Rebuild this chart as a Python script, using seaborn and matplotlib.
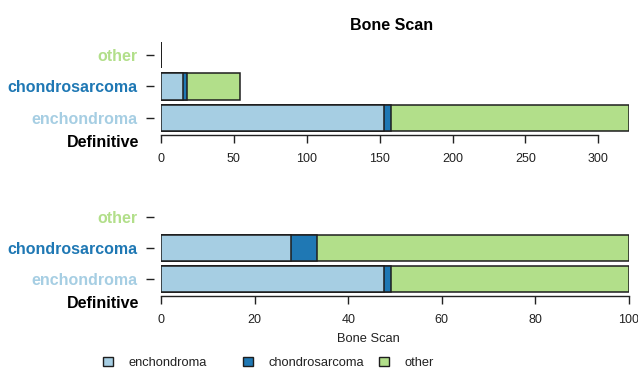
import numpy as np
import pandas as pd
import matplotlib
matplotlib.use("Agg")
import matplotlib.pyplot as plt
from matplotlib.patches import Patch
import seaborn as sns

# Bone scan reading (segments) per definitive diagnosis (rows)
responses = ["enchondroma", "chondrosarcoma", "other"]
rows = ["other", "chondrosarcoma", "enchondroma"]
enchondroma_counts = [153, 5, 163]
chondrosarcoma_counts = [15, 3, 36]
other_counts = [0, 0, 0]
count_ticks = [0, 50, 100, 150, 200, 250, 300]
pct_ticks = [0, 20, 40, 60, 80, 100]
colors = ["#a6cee3", "#1f78b4", "#b2df8a"]
row_colors = {"other": "#b2df8a", "chondrosarcoma": "#1f78b4", "enchondroma": "#a6cee3"}

sns.set_theme(style="white")
plt.rcParams["font.family"] = ["Liberation Sans", "DejaVu Sans"]

W, H = 638, 370
fig = plt.figure(figsize=(W / 100, H / 100), dpi=100)
fig.patch.set_facecolor("white")


def px_axes(left, top, right, bottom):
    return fig.add_axes([left / W, 1 - bottom / H, (right - left) / W, (bottom - top) / H])


counts = pd.DataFrame([other_counts, chondrosarcoma_counts, enchondroma_counts],
                      index=rows, columns=responses)
totals = counts.sum(axis=1)
percents = counts.div(totals.replace(0, np.nan), axis=0) * 100

EDGE = "#1e1e1e"
INK = "#222222"


def stacked(ax, table):
    cum = table.cumsum(axis=1)
    # draw cumulative bars from the longest down so each segment shows through
    for resp, col in reversed(list(zip(responses, colors))):
        df = pd.DataFrame({"row": rows, "value": cum[resp].values}).dropna()
        sns.barplot(data=df, x="value", y="row", order=rows, color=col, saturation=1,
                    edgecolor=EDGE, linewidth=1.1, width=0.83, errorbar=None, ax=ax)


def style(ax, ticks, xmax):
    ax.set_xlim(0, xmax)
    ax.set_xticks(ticks)
    ax.set_xticklabels([str(t) for t in ticks])
    for s in ("top", "right"):
        ax.spines[s].set_visible(False)
    ax.spines["left"].set_position(("outward", 5))
    ax.spines["left"].set_visible(False)
    ax.spines["bottom"].set_bounds(ticks[0], ticks[-1])
    ax.spines["bottom"].set_color(INK)
    ax.spines["bottom"].set_linewidth(1)
    ax.tick_params(axis="x", bottom=True, length=5.5, width=1, pad=7.5,
                   colors=INK, labelsize=9)
    ax.tick_params(axis="y", left=True, length=5.8, width=1, pad=6, colors=INK,
                   labelsize=11.5)
    for lbl in ax.get_yticklabels():
        lbl.set_color(row_colors[lbl.get_text()])
        lbl.set_fontweight("bold")
    ax.set_ylabel("")
    ax.set_xlabel("")
    ax.set_facecolor("white")


ax1 = px_axes(161, 40, 629, 135)
stacked(ax1, counts)
style(ax1, count_ticks, totals.max())
ax1.set_ylim(2.54, -0.476)

ax2 = px_axes(161, 200, 629, 296)
stacked(ax2, percents)
style(ax2, pct_ticks, 100)
ax2.set_ylim(2.55, -0.55)
ax2.set_xlabel("Bone Scan", fontsize=9.3, color=INK)
ax2.xaxis.set_label_coords((368 - 161) / 468, (296 - 333) / 96)

fig.text(392 / W, 1 - 25 / H, "Bone Scan", ha="center", va="center",
         fontsize=11.5, fontweight="bold", color="black")
for y in (142, 303):
    fig.text(139 / W, 1 - y / H, "Definitive", ha="right", va="center",
             fontsize=11.5, fontweight="bold", color="black")

for resp, col, x in zip(responses, colors, (103, 243, 379)):
    fig.legend(handles=[Patch(facecolor=col, edgecolor=EDGE, linewidth=1)], labels=[resp],
               loc="center left", bbox_to_anchor=(x / W, 1 - 363 / H), frameon=False,
               fontsize=9.3, handlelength=0.75, handleheight=0.75, handletextpad=1.2,
               borderpad=0, borderaxespad=0, labelcolor=INK)

fig.savefig("out.png", dpi=100, facecolor="white")
